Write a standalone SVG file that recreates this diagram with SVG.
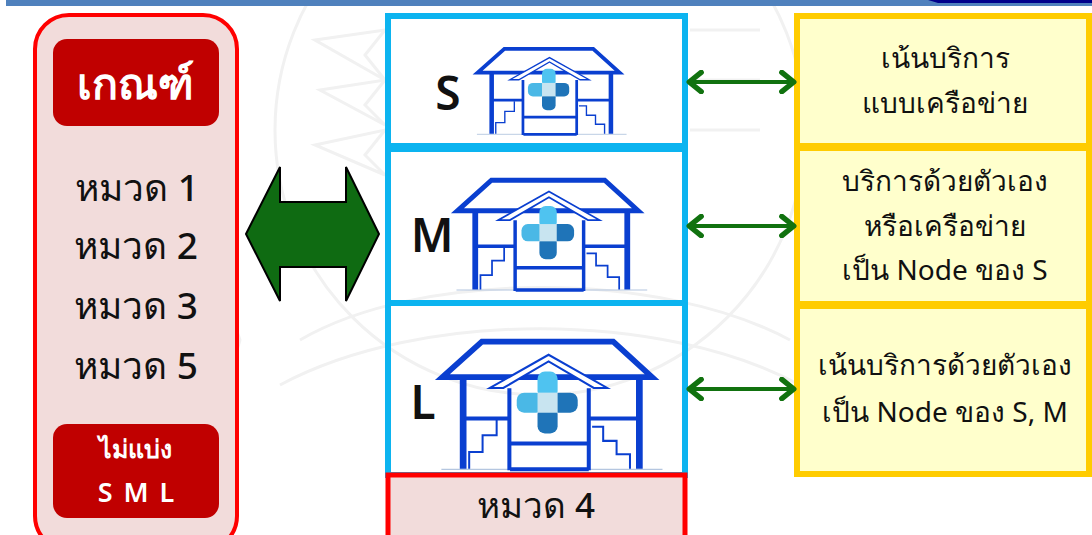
<svg xmlns="http://www.w3.org/2000/svg" width="1092" height="535" viewBox="0 0 1092 535">
<style>
text{font-family:"Noto Sans","Open Sans","DejaVu Sans",sans-serif;text-anchor:middle;fill:#111}
.t{font-size:28px}
.c{font-size:37px;font-weight:500}
.c4{font-size:35px;font-weight:500}
.b{font-size:46px;font-weight:600}
.w{fill:#fff;font-weight:600}
.blue{fill:none;stroke:#0cb4f0;stroke-width:6}
.yel{fill:#ffffcc;stroke:#ffcc00;stroke-width:6}
.red{fill:#f2dcdb;stroke:#ff0000}
.hdr{fill:#c00000}
.link{fill:none;stroke:#11720f;stroke-width:4;marker-start:url(#ch);marker-end:url(#ch)}
.wm{fill:none;stroke:#f1f1f1;stroke-width:3}
.h{fill:none;stroke:#0a3fd0;stroke-linejoin:miter}
</style>
<defs>
<marker id="ch" viewBox="0 0 16 20" refX="15" refY="10" markerUnits="userSpaceOnUse" markerWidth="20" markerHeight="24" orient="auto-start-reverse">
<path d="M4 2L14 10L4 18" fill="none" stroke="#11720f" stroke-width="4.5" stroke-linecap="round" stroke-linejoin="round"/>
</marker>
<g id="house">
<path d="M185 507H845" stroke="#b4c6e0" stroke-width="4" fill="none"/>
<path class="h" stroke-width="17" d="M188 232L306 126H698L814 232Z"/>
<path class="h" stroke-width="20" d="M250 238V505M776 238V505"/>
<path class="h" stroke-width="12" d="M255 355H385M630 355H775M390 430H620M390 507H625M388 265V510M625 265V510"/>
<path class="h" stroke-width="6" d="M268 505V455H308V405H350V360M635 380H668V422H708V462H748V505"/>
<path d="M330 264L505 165L680 264H640L505 185L370 264Z" fill="#fff" stroke="#0a3fd0" stroke-width="6"/>
<rect x="472" y="215" width="60" height="80" rx="22" fill="#4fc3f0"/>
<rect x="410" y="278" width="80" height="60" rx="22" fill="#4ab8e6"/>
<rect x="512" y="278" width="80" height="60" rx="22" fill="#1f74b8"/>
<rect x="472" y="320" width="60" height="80" rx="22" fill="#1f74b8"/>
<rect x="472" y="278" width="60" height="60" fill="#c8e4f0"/>
</g>
</defs>
<rect width="1092" height="535" fill="#fff"/>
<g id="watermark">
<circle cx="540" cy="130" r="265" class="wm"/>
<path class="wm" d="M315 40L385 30L365 55L385 80ZM320 90L385 80L365 105L385 125ZM315 145L385 130L365 155L385 175Z"/>
<path class="wm" d="M760 30H690M760 80H690M760 130H690"/>
<path class="wm" d="M155 170C170 210 135 220 150 260C165 300 230 300 240 340C225 400 170 380 140 330Z"/>
<path class="wm" d="M300 340C420 270 660 270 790 340M280 385C420 310 660 310 800 385"/>
</g>
<rect x="6" y="0" width="1086" height="6" fill="#4f81bd"/>
<path d="M928 0H1092V3H938Z" fill="#00008b"/>
<g id="criteria">
<rect class="red" x="35" y="15" width="202" height="535" rx="34" stroke-width="4"/>
<rect class="hdr" x="53" y="39" width="166" height="87" rx="14"/>
<text class="w" x="135" y="99" font-size="43">เกณฑ์</text>
<text class="c" x="137" y="201">หมวด 1</text>
<text class="c" x="136" y="259">หมวด 2</text>
<text class="c" x="136" y="319">หมวด 3</text>
<text class="c" x="136" y="379">หมวด 5</text>
<rect class="hdr" x="53" y="424" width="166" height="94" rx="14"/>
<text class="w" x="135" y="458" font-size="25">ไม่แบ่ง</text>
<text class="w" x="137" y="502" font-size="27" letter-spacing="2">S M L</text>
</g>
<g id="big-arrow">
<path d="M246 234L280 167V202H346V167L379 234L346 301V267H280V301Z" fill="#0f6b12" stroke="#000" stroke-width="2"/>
</g>
<g id="size-s">
<rect class="blue" x="388" y="16" width="297" height="130"/>
<use href="#house" transform="translate(435 20.5) scale(.2267 .2245)"/>
<text class="b" x="448" y="110">S</text>
</g>
<g id="size-m">
<rect class="blue" x="388" y="149" width="297" height="154"/>
<use href="#house" transform="translate(403 144) scale(.289 .288)"/>
<text class="b" x="432" y="252">M</text>
</g>
<g id="size-l">
<rect class="blue" x="388" y="303" width="297" height="172"/>
<use href="#house" transform="translate(379.4 299.5) scale(.335)"/>
<text class="b" x="423" y="419">L</text>
</g>
<g id="cat4">
<rect class="red" x="388" y="475" width="297" height="70" stroke-width="5"/>
<text class="c4" x="536" y="518">หมวด 4</text>
</g>
<g id="desc-s">
<rect class="yel" x="797" y="16" width="292" height="130"/>
<text class="t" x="945" y="68">เน้นบริการ</text>
<text class="t" x="945" y="113">แบบเครือข่าย</text>
</g>
<g id="desc-m">
<rect class="yel" x="797" y="148" width="292" height="156"/>
<text class="t" x="945" y="191">บริการด้วยตัวเอง</text>
<text class="t" x="945" y="236">หรือเครือข่าย</text>
<text class="t" x="945" y="280">เป็น Node ของ S</text>
</g>
<g id="desc-l">
<rect class="yel" x="797" y="306" width="292" height="168"/>
<text class="t" x="945" y="375">เน้นบริการด้วยตัวเอง</text>
<text class="t" x="945" y="422">เป็น Node ของ S, M</text>
</g>
<g id="connectors">
<path class="link" d="M688 82H795"/>
<path class="link" d="M688 226H795"/>
<path class="link" d="M688 389H795"/>
</g>
</svg>
